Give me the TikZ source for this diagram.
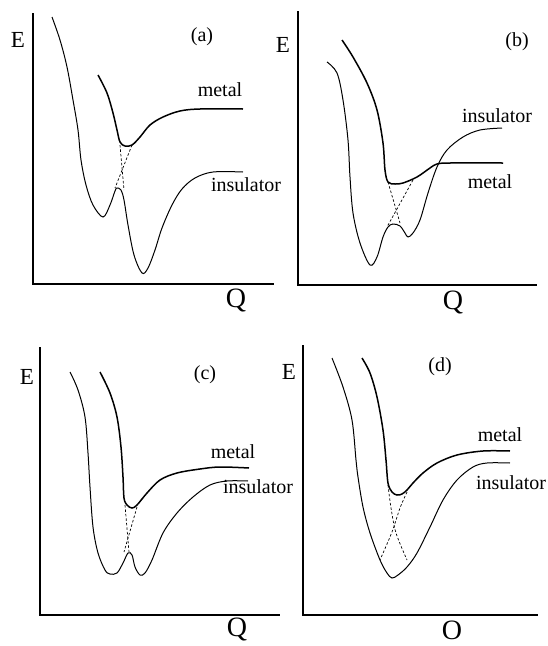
\documentclass[tikz,border=0pt]{standalone}
\usepackage{fontspec}
\setmainfont{Liberation Serif}
\tikzset{
  axis/.style={line width=1.7pt},
  pot/.style={line width=1.0pt},
  potb/.style={line width=1.5pt},
  cross/.style={line width=0.7pt, dash pattern=on 2.5pt off 2pt},
  lab/.style={font=\fontsize{20}{22}\selectfont, inner sep=0pt},
  axlab/.style={font=\fontsize{23}{25}\selectfont, inner sep=0pt},
  qlab/.style={font=\fontsize{28}{30}\selectfont, inner sep=0pt}
}
\begin{document}
\begin{tikzpicture}[x=1pt,y=-1pt]
\useasboundingbox (0,0) rectangle (548,646);

\draw[axis] (33,13) -- (33,284) -- (274,284);
\node[axlab] (Ea) at (18,40) {E};
\node[qlab] (Qa) at (236,300) {Q};
\node[lab] (labA) at (202,37) {(a)};
\node[lab] (metA) at (220,90) {metal};
\node[lab] (insA) at (246,185) {insulator};
\draw[pot] plot[smooth,tension=0.55] coordinates {(52,17) (60,40) (67,67) (73,100) (78,130) (81,160) (86,185) (93,205) (103,217) (110,205) (115,191) (117,188) (121,190) (124,200) (128,225) (134,255) (142,273) (148,268) (155,250) (162,228) (172,205) (182,189) (195,178) (213,172) (243,172)};
\draw[potb] plot[smooth,tension=0.55] coordinates {(98,75) (107,93) (113,113) (117,130) (120,142) (125,146) (132,145) (140,137) (150,125) (163,117) (180,111) (200,109) (243,109)};
\draw[cross] (120,145) -- (124,190);
\draw[cross] (132,145) -- (115,188);

\draw[axis] (298,11) -- (298,285) -- (537,285);
\node[axlab] (Eb) at (283,45) {E};
\node[qlab] (Qb) at (453,302) {Q};
\node[lab] (labB) at (517,42) {(b)};
\node[lab] (insB) at (497,116) {insulator};
\node[lab] (metB) at (490,182) {metal};
\draw[pot] plot[smooth,tension=0.55] coordinates {(327,62) (337,73) (343,100) (348,140) (350,177) (353,213) (360,243) (370,265) (377,257) (383,237) (388,227) (393,224) (400,226) (405,233) (408,237) (413,233) (420,220) (428,193) (437,167) (447,150) (463,137) (480,130) (502,128)};
\draw[potb] plot[smooth,tension=0.55] coordinates {(342,40) (353,57) (367,83) (377,110) (383,143) (385,170) (388,182) (395,184) (403,183) (417,177) (430,168) (437,164) (450,163) (503,163)};
\draw[cross] (388,182) -- (400,223);
\draw[cross] (413,180) -- (387,227);

\draw[axis] (40,347) -- (40,615) -- (280,615);
\node[axlab] (Ec) at (27,377) {E};
\node[qlab] (Qc) at (237,629) {Q};
\node[lab] (labC) at (205,375) {(c)};
\node[lab] (metC) at (233,452) {metal};
\node[lab] (insC) at (258,487) {insulator};
\draw[pot] plot[smooth,tension=0.55] coordinates {(70,372) (78,390) (85,417) (88,453) (90,487) (93,527) (98,553) (105,570) (110,574) (117,573) (123,563) (128,553) (132,555) (135,567) (140,575) (145,573) (152,560) (163,533) (177,513) (193,497) (210,485) (227,481) (248,481)};
\draw[potb] plot[smooth,tension=0.55] coordinates {(100,372) (110,393) (117,417) (121,447) (123,477) (124,498) (127,505) (132,508) (137,505) (147,493) (160,480) (177,473) (200,469) (220,467) (249,468)};
\draw[cross] (125,505) -- (129,552);
\draw[cross] (137,507) -- (124,552);

\draw[axis] (303,345) -- (303,615) -- (538,615);
\node[axlab] (Ed) at (289,372) {E};
\node[qlab] (Od) at (452,630) {O};
\node[lab] (labD) at (440,367) {(d)};
\node[lab] (metD) at (500,435) {metal};
\node[lab] (insD) at (511,483) {insulator};
\draw[pot] plot[smooth,tension=0.55] coordinates {(332,358) (343,387) (352,420) (356,460) (358,477) (363,507) (370,533) (380,560) (387,573) (392,578) (398,575) (407,567) (417,553) (430,527) (443,500) (457,480) (473,467) (487,463) (510,463)};
\draw[potb] plot[smooth,tension=0.55] coordinates {(362,358) (370,373) (377,397) (383,430) (386,460) (388,483) (392,492) (397,495) (402,494) (407,490) (413,483) (423,473) (437,463) (457,455) (483,451) (510,451)};
\draw[cross] plot[smooth] coordinates {(388,485) (391,508) (396,533) (407,560)};
\draw[cross] plot[smooth] coordinates {(407,492) (400,508) (392,532) (380,560)};
\end{tikzpicture}
\end{document}
